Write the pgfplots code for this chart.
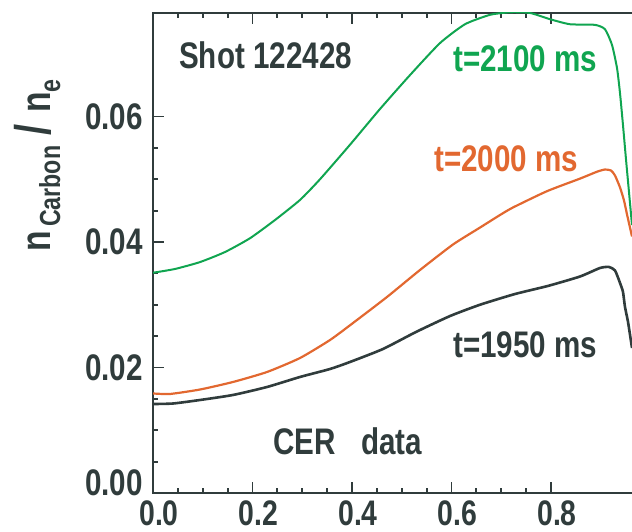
\documentclass[border=0pt]{standalone}
\usepackage{fontspec}
\setmainfont{Liberation Sans}[FakeStretch=0.8]
\usepackage{pgfplots}
\pgfplotsset{compat=1.18}
\definecolor{dk}{RGB}{48,60,60}
\definecolor{gr}{RGB}{16,165,80}
\definecolor{org}{RGB}{226,104,48}
\newcommand{\bigfnt}{\fontsize{37}{37}\selectfont\bfseries}
\newcommand{\xfnt}{\fontsize{35.5}{36}\selectfont\bfseries}
\newcommand{\subfnt}{\fontsize{29}{29}\selectfont\bfseries}
\begin{document}
\begin{tikzpicture}
\useasboundingbox (0,0) rectangle (632pt,532pt);
\begin{axis}[
  at={(153pt,39pt)}, anchor=south west,
  scale only axis, width=481pt, height=480.3pt,
  xmin=0, xmax=0.9668, ymin=0, ymax=0.07654,
  axis line style={dk, line width=2pt},
  tick style={dk, line width=1.8pt},
  major tick length=11pt, minor tick length=5pt,
  tick align=inside,
  xtick={0,0.2,0.4,0.6,0.8}, xticklabels={0.0,0.2,0.4,0.6,0.8},
  ytick={0,0.02,0.04,0.06}, yticklabels={\raisebox{20pt}{0.00},0.02,0.04,0.06},
  minor x tick num=3, minor y tick num=3,
  xtick pos=both, ytick pos=left,
  ticklabel style={font=\bigfnt, text=dk, inner sep=0pt},
  xticklabel style={font=\xfnt, anchor=north, yshift=-8pt, xshift=6pt},
  yticklabel style={anchor=east, xshift=-10pt},
  ylabel={\fontsize{42}{42}\selectfont\bfseries n\hspace{4pt}\raisebox{-10pt}{\subfnt Carbon}\hspace{10pt}{\fontsize{50}{50}\selectfont /}\hspace{12pt}n\raisebox{-10pt}{\subfnt e}},
  ylabel style={at={(rel axis cs:-0.2141,0.5024)}, anchor=base west, inner sep=0pt, text=dk},
]
% t=2100 ms
\addplot[gr, line width=2pt, smooth, tension=0.35] coordinates {
(0,0.0351) (0.0442,0.0357) (0.0945,0.0368) (0.1447,0.0384) (0.1950,0.0406)
(0.2452,0.0435) (0.2955,0.0467) (0.3357,0.0500) (0.3960,0.0555) (0.4563,0.0612)
(0.5166,0.0666) (0.5769,0.0717) (0.6271,0.0747) (0.6774,0.0762) (0.7176,0.0766)
(0.7578,0.0765) (0.7980,0.0755) (0.8382,0.0747) (0.8884,0.0746) (0.9085,0.0739)
(0.9226,0.0714) (0.9327,0.0677) (0.9387,0.0637) (0.9447,0.0586) (0.9508,0.0531)
(0.9568,0.0479) (0.9628,0.0427)
};
% t=2000 ms
\addplot[org, line width=2.2pt, smooth, tension=0.35] coordinates {
(0,0.01586) (0.0342,0.01578) (0.0945,0.01649) (0.1608,0.01769) (0.2291,0.01928)
(0.2955,0.02151) (0.3558,0.02438) (0.4020,0.02709) (0.4704,0.03124) (0.5367,0.03554)
(0.6030,0.03960) (0.6573,0.04230) (0.6975,0.04430) (0.7236,0.04550) (0.7920,0.04810)
(0.8583,0.05010) (0.8925,0.05120) (0.9085,0.05155) (0.9206,0.05139) (0.9286,0.05060)
(0.9387,0.04869) (0.9467,0.04661) (0.9528,0.04438) (0.9628,0.04088)
};
% t=1950 ms
\addplot[dk, line width=2.6pt, smooth, tension=0.35] coordinates {
(0,0.01418) (0.0402,0.01426) (0.0945,0.01482) (0.1608,0.01562) (0.2291,0.01689)
(0.2955,0.01849) (0.3558,0.01976) (0.3960,0.02088) (0.4623,0.02295) (0.5286,0.02566)
(0.5970,0.02820) (0.6573,0.03000) (0.7276,0.03171) (0.7940,0.03300) (0.8583,0.03450)
(0.8985,0.03586) (0.9166,0.03602) (0.9286,0.03546) (0.9387,0.03347) (0.9447,0.03203)
(0.9487,0.02964) (0.9548,0.02725) (0.9628,0.02311)
};
\node[anchor=base west, inner sep=0pt, text=dk, font=\bigfnt] at (axis cs:0.0523,0.0676) {Shot 122428};
\node[anchor=base west, inner sep=0pt, text=gr, font=\bigfnt] at (axis cs:0.603,0.0671) {t=2100 ms};
\node[anchor=base west, inner sep=0pt, text=org, font=\bigfnt] at (axis cs:0.5648,0.0512) {t=2000 ms};
\node[anchor=base west, inner sep=0pt, text=dk, font=\bigfnt] at (axis cs:0.603,0.02157) {t=1950 ms};
\node[anchor=base west, inner sep=0pt, text=dk, font=\bigfnt] at (axis cs:0.2412,0.00617) {CER};
\node[anchor=base west, inner sep=0pt, text=dk, font=\bigfnt] at (axis cs:0.418,0.00617) {data};
\end{axis}
\end{tikzpicture}
\end{document}
